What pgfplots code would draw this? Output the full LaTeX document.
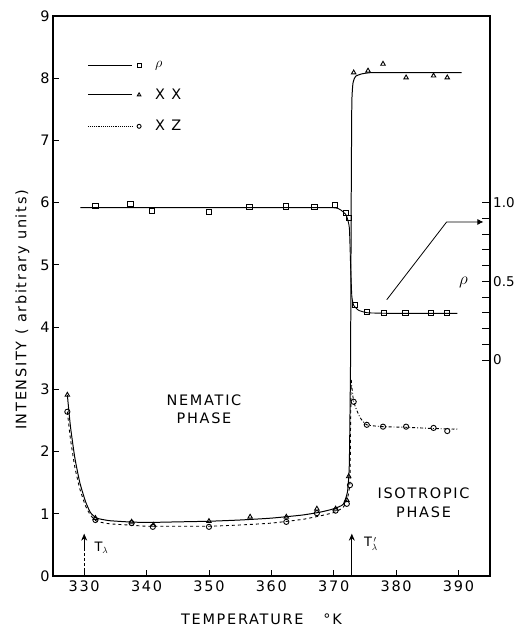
\documentclass[border=0pt]{standalone}
\usepackage{fontspec}
\setmainfont{DejaVu Sans}[LetterSpace=12]
\usepackage{pgfplots}
\pgfplotsset{compat=1.18}
\usetikzlibrary{arrows.meta}

\begin{document}
\begin{tikzpicture}[font=\fontsize{14.5}{17}\selectfont]
\begin{axis}[
  scale only axis,
  width=437bp, height=560bp,
  xmin=325.0, xmax=395.05,
  ymin=0, ymax=9,
  xtick={330,340,350,360,370,380,390},
  ytick={0,1,2,3,4,5,6,7,8,9},
  tick align=inside,
  tick pos=left,
  major tick length=6bp,
  tick style={line width=0.9pt, black},
  axis line style={line width=1.1pt},
  /pgf/number format/assume math mode=true,
  xticklabel style={yshift=-1bp},
  xlabel={TEMPERATURE\hspace{20bp}°K},
  ylabel={INTENSITY ( arbitrary units)},
  xlabel style={yshift=-15bp, xshift=-10bp},
  ylabel style={yshift=4bp, xshift=-14bp},
  mark size=2.6bp,
  legend style={at={(0.072,0.926)}, anchor=north west, draw=none, fill=none,
                row sep=15.5bp, font=\fontsize{14.5}{17}\selectfont,
                nodes={inner xsep=14bp}},
  legend cell align=left,
  legend image code/.code={
    \draw[#1, mark=none] (0bp,0bp) -- (44bp,0bp);
    \draw[#1, solid, mark size=2bp] plot[only marks] coordinates {(51bp,0bp)};
  },
]
% legend samples
\addlegendimage{black, line width=0.9pt, mark=square, mark options={fill=white}}
\addlegendentry{$\rho$}
\addlegendimage{black, line width=0.9pt, mark=triangle, mark options={fill=white}}
\addlegendentry{X X}
\addlegendimage{black, line width=0.9pt, densely dotted, mark=o, mark options={fill=white}}
\addlegendentry{X Z}

% rho curve
\addplot[black, line width=0.9pt, smooth, tension=0.3] coordinates {
  (329.4,5.92) (340,5.92) (355,5.92) (369.5,5.92) (371,5.89) (372,5.80)
  (372.5,5.6) (372.7,5.0) (372.9,4.5) (373.2,4.35) (374,4.27) (375.5,4.23)
  (380,4.22) (389.8,4.22)
};
% XX curve
\addplot[black, line width=1.0pt, smooth, tension=0.3] coordinates {
  (327.3,2.91) (327.8,2.4) (328.5,1.9) (329.3,1.5) (330.2,1.2) (331.0,1.02)
  (332,0.93) (334,0.89) (337,0.87) (340,0.86) (345,0.87) (350,0.88)
  (355,0.9) (360,0.93) (365,0.98) (368,1.03) (370,1.08) (371.5,1.15)
  (372.2,1.35) (372.5,1.8) (372.7,3.5) (372.8,6.0) (372.9,7.6) (373.1,7.93)
  (373.5,8.03) (374.5,8.07) (376,8.09) (380,8.09) (390.5,8.09)
};
% XZ curve, nematic
\addplot[black, line width=0.9pt, dashed, smooth, tension=0.3] coordinates {
  (327.3,2.64) (327.8,2.2) (328.5,1.75) (329.3,1.4) (330.2,1.13) (331,0.98)
  (332,0.88) (334,0.84) (337,0.82) (340,0.80) (345,0.80) (350,0.80)
  (355,0.82) (360,0.85) (365,0.91) (368,0.97) (370,1.02) (371.5,1.1)
  (372.2,1.25) (372.6,1.5) (372.7,2.4) (372.8,3.15)
};
% XZ curve, isotropic
\addplot[black, line width=0.9pt, dashdotted, smooth, tension=0.3] coordinates {
  (372.8,3.15) (373.2,2.80) (374.2,2.55) (375.3,2.43) (377.9,2.40)
  (381.6,2.39) (386,2.37) (389.8,2.36)
};

% measured points
\addplot[black, only marks, mark=square, mark options={fill=white, line width=0.9pt}] coordinates {
  (331.8,5.95) (337.4,5.98) (340.8,5.87) (350.0,5.85) (356.5,5.93) (362.4,5.94)
  (366.9,5.93) (370.2,5.96) (371.9,5.84) (372.4,5.76) (373.4,4.36) (375.3,4.24)
  (378.1,4.23) (381.5,4.23) (385.6,4.23) (388.2,4.23)
};
\addplot[black, only marks, mark=triangle, mark options={fill=white, line width=0.9pt}] coordinates {
  (327.3,2.91) (331.8,0.93) (337.6,0.87) (341.1,0.82) (350.0,0.88) (356.6,0.95)
  (362.4,0.95) (367.3,1.08) (370.3,1.08) (372.1,1.22) (372.4,1.60)
  (373.2,8.09) (375.5,8.12) (377.9,8.23) (381.6,8.01) (386.0,8.04) (388.2,8.01)
};
\addplot[black, only marks, mark=o, mark options={fill=white, line width=0.9pt}] coordinates {
  (327.3,2.64) (331.8,0.90) (337.6,0.85) (341.0,0.79) (350.0,0.79) (362.4,0.87)
  (367.3,1.01) (370.3,1.05) (372.1,1.16) (372.6,1.46) (373.2,2.80) (375.3,2.43)
  (377.9,2.40) (381.6,2.40) (386.0,2.38) (388.2,2.33)
};

% tick marks on the left and bottom scales
\pgfplotsinvokeforeach{330,340,350,360,370,380,390}{
  \draw[black, line width=0.9pt] (axis cs:#1,0) -- ++(0bp,6bp);
}
\pgfplotsinvokeforeach{1,2,3,4,5,6,7,8}{
  \draw[black, line width=0.9pt] (axis cs:325.0,#1) -- ++(6bp,0bp);
}

% annotations
\draw[black, line width=0.8pt, densely dashed] (axis cs:330,0) -- (axis cs:330,0.5);
\draw[black, line width=0.8pt, -{Stealth[length=7bp, width=6bp]}] (axis cs:330,0.45) -- (axis cs:330,0.68);
\node[anchor=west, font=\fontsize{13}{15}\selectfont] at (axis cs:331.1,0.45) {T$_\lambda$};
\draw[black, line width=0.8pt, -{Stealth[length=7bp, width=6bp]}] (axis cs:372.9,0) -- (axis cs:372.9,0.68);
\node[anchor=west, font=\fontsize{13}{15}\selectfont] at (axis cs:374.3,0.52) {T$_\lambda^{\,\prime}$};
\node[align=center] at (axis cs:349.2,2.68) {NEMATIC\\[2bp]PHASE};
\node[align=center] at (axis cs:384.4,1.18) {ISOTROPIC\\[2bp]PHASE};
\draw[black, line width=0.8pt, -{Latex[length=6bp, width=6bp]}]
  (axis cs:378.5,4.44) -- (axis cs:388.1,5.69) -- (axis cs:394.0,5.69);
\node[font=\fontsize{17}{19}\selectfont] at (axis cs:390.8,4.71) {$\rho$};
\end{axis}

% right-hand rho scale
\begin{axis}[
  scale only axis,
  width=437bp, height=560bp,
  xmin=325.0, xmax=395.05,
  ymin=-1.3715, ymax=2.1858,
  hide x axis,
  ytick pos=right,
  axis line style={line width=1.1pt},
  ytick={0,0.5,1},
  yticklabels={0,0.5,1.0},
  minor ytick={0,0.1,0.2,0.3,0.4,0.5,0.6,0.7,0.8,0.9,1.0},
  tick align=inside,
  major tick length=8bp,
  minor tick length=8bp,
  tick style={line width=0.9pt, black},
  yticklabel style={xshift=3bp, inner xsep=0pt,
    font=\fontsize{13.5}{16}\selectfont\addfontfeature{LetterSpace=0}},
]
\addplot[draw=none] coordinates {(330,0) (390,1)};
\end{axis}
\pgfresetboundingbox
\path[use as bounding box] ([shift={(-53bp,-51bp)}]current axis.south west)
  rectangle ([shift={(25bp,16bp)}]current axis.north east);
\end{tikzpicture}
\end{document}
